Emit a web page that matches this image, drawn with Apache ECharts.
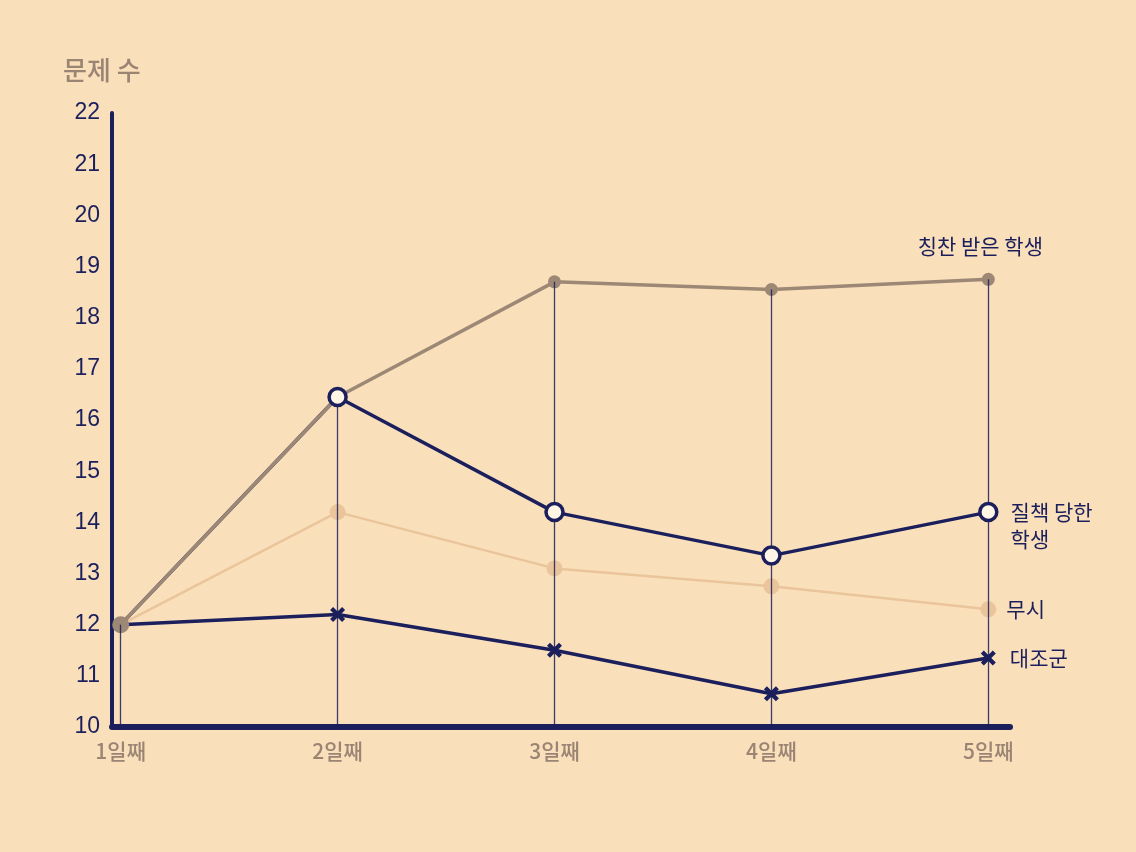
<!DOCTYPE html>
<html><head><meta charset="utf-8">
<script src="https://cdn.jsdelivr.net/npm/echarts@6/dist/echarts.min.js"></script>
<style>html,body{margin:0;padding:0;background:#fadfbb;}#c{width:1136px;height:852px;}</style>
</head><body><div id="c"></div>
<script>
const days = ['1일째', '2일째', '3일째', '4일째', '5일째'];
const praised = [12, 16.45, 18.7, 18.55, 18.75];
const scolded = [12, 16.45, 14.2, 13.35, 14.2];
const ignored = [12, 14.2, 13.1, 12.75, 12.3];
const control = [12, 12.2, 11.5, 10.65, 11.35];
const seriesNames = ['칭찬 받은 학생', '질책 당한\n학생', '무시', '대조군'];
const yAxisName = '문제 수';

const NAVY = '#1b1f5c';
const BROWN = '#9d8775';
const TAN = '#eac59b';
const GREY = '#9a8574';
const KR = '"Noto Sans CJK KR", "Noto Sans", sans-serif';

const xy = arr => arr.map((v, i) => [i, v]);
const labelStyle = {fontFamily: KR, fontSize: 21, color: NAVY};
const xMark = 'path://M2,0 L5,3 L8,0 L10,2 L7,5 L10,8 L8,10 L5,7 L2,10 L0,8 L3,5 L0,2 Z';

const praisedData = praised.map((v, i) => {
  const it = {value: [i, v]};
  if (i === 0) it.symbolSize = 17;
  if (i === 1) it.symbol = 'none';
  if (i === praised.length - 1) it.label = {show: true, position: 'top', distance: 16, offset: [-8, 0], formatter: seriesNames[0], ...labelStyle};
  return it;
});
const scoldedMarks = scolded.map((v, i) => {
  const it = {value: [i, v]};
  if (i === 0) it.symbolSize = 0;
  if (i === scolded.length - 1) it.label = {show: true, position: 'right', distance: 12, offset: [0, 13], formatter: seriesNames[1], lineHeight: 27, ...labelStyle};
  return it;
});
const ignoredData = ignored.map((v, i) => {
  const it = {value: [i, v]};
  if (i === 0) it.symbol = 'none';
  if (i === ignored.length - 1) it.label = {show: true, position: 'right', distance: 10, formatter: seriesNames[2], ...labelStyle};
  return it;
});
const controlData = control.map((v, i) => {
  const it = {value: [i, v]};
  if (i === 0) it.symbol = 'none';
  if (i === control.length - 1) it.label = {show: true, position: 'right', distance: 14, formatter: seriesNames[3], ...labelStyle};
  return it;
});

const chart = echarts.init(document.getElementById('c'), null, {renderer: 'canvas'});
chart.setOption({
  backgroundColor: '#fadfbb',
  animation: false,
  title: {text: yAxisName, left: 58, top: 52, textStyle: {fontFamily: KR, fontSize: 26, fontWeight: 500, color: GREY}},
  grid: {left: 112, right: 126, top: 113, bottom: 125},
  xAxis: {
    type: 'value', min: -0.04, max: 4.1,
    axisLine: {show: true, onZero: false, lineStyle: {color: NAVY, width: 6}},
    axisTick: {show: false}, splitLine: {show: false},
    axisLabel: {customValues: [0, 1, 2, 3, 4], formatter: v => days[Math.round(v)], margin: 14,
      fontFamily: KR, fontSize: 21, fontWeight: 500, color: GREY}
  },
  yAxis: {
    type: 'value', min: 10, max: 22, interval: 1,
    axisLine: {show: true, onZero: false, lineStyle: {color: NAVY, width: 4}},
    axisTick: {show: false}, splitLine: {show: false},
    axisLabel: {margin: 12, fontFamily: '"Liberation Sans", Arial, sans-serif', fontSize: 23, color: NAVY}
  },
  series: [
    {
      name: 'drop', type: 'line', data: xy(praised), z: 1, silent: true,
      showSymbol: false, lineStyle: {opacity: 0},
      markLine: {
        silent: true, symbol: 'none', label: {show: false},
        lineStyle: {color: NAVY, width: 1.3, type: 'solid', opacity: 0.85},
        data: praised.map((v, i) => [{coord: [i, v]}, {coord: [i, 10]}])
      }
    },
    {
      name: seriesNames[3], type: 'line', data: controlData, z: 2,
      symbol: xMark, symbolSize: 15,
      lineStyle: {color: NAVY, width: 3.5}, itemStyle: {color: NAVY}
    },
    {
      name: seriesNames[2], type: 'line', data: ignoredData, z: 2,
      symbol: 'circle', symbolSize: 16,
      lineStyle: {color: TAN, width: 2.5}, itemStyle: {color: TAN}
    },
    {
      name: seriesNames[1], type: 'line', data: xy(scolded), z: 2,
      showSymbol: false, symbol: 'none',
      lineStyle: {color: NAVY, width: 3.5}
    },
    {
      name: seriesNames[0], type: 'line', data: praisedData, z: 3,
      symbol: 'circle', symbolSize: 13,
      lineStyle: {color: BROWN, width: 3.5}, itemStyle: {color: BROWN}
    },
    {
      name: seriesNames[1] + ' marks', type: 'scatter', data: scoldedMarks, z: 5,
      symbol: 'circle', symbolSize: 17,
      itemStyle: {color: '#fff6e6', borderColor: NAVY, borderWidth: 3.5, opacity: 1}
    }
  ]
});
</script></body></html>
